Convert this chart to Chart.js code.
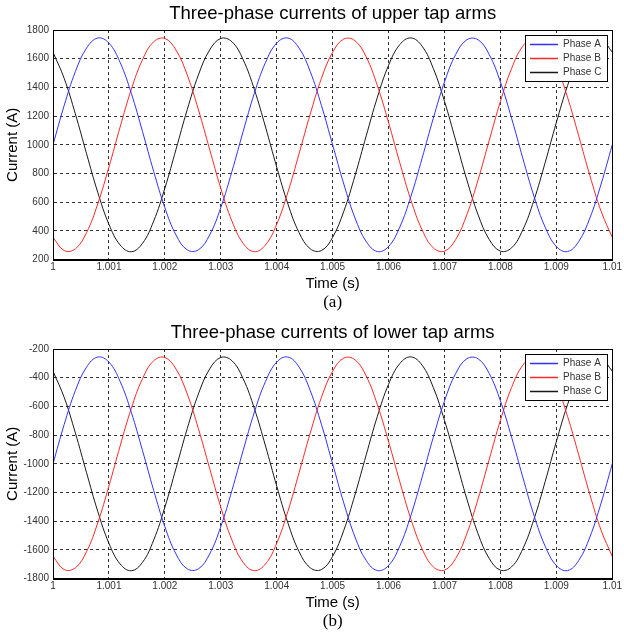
<!DOCTYPE html>
<html>
<head>
<meta charset="utf-8">
<script src="https://cdn.jsdelivr.net/npm/chart.js@4/dist/chart.umd.min.js"></script>
<style>
    body { margin: 0; background: #fff; }
    canvas { position: absolute; left: 0; }
    #upper-chart { top: 0; }
    #lower-chart { top: 319px; }
</style>
</head>
<body>
<canvas id="upper-chart" width="624" height="313"></canvas>
<canvas id="lower-chart" width="624" height="313"></canvas>
<script>
const times = [1, 1.0002, 1.0004, 1.0006, 1.0008, 1.001, 1.0012, 1.0014, 1.0016, 1.0018,
    1.002, 1.0022, 1.0024, 1.0026, 1.0028, 1.003, 1.0032, 1.0034, 1.0036, 1.0038,
    1.004, 1.0042, 1.0044, 1.0046, 1.0048, 1.005, 1.0052, 1.0054, 1.0056, 1.0058,
    1.006, 1.0062, 1.0064, 1.0066, 1.0068, 1.007, 1.0072, 1.0074, 1.0076, 1.0078,
    1.008, 1.0082, 1.0084, 1.0086, 1.0088, 1.009, 1.0092, 1.0094, 1.0096, 1.0098, 1.01];

const phaseNames = ['Phase A', 'Phase B', 'Phase C'];
const phaseColors = ['rgb(50, 50, 255)', 'rgb(255, 40, 40)', 'rgb(25, 25, 25)'];

// upper tap arms (A)
const upperA = [1000, 1274, 1510, 1674, 1744, 1709, 1574, 1359, 1093, 815, 562, 371, 268, 268, 371, 562, 815,
    1093, 1359, 1574, 1709, 1744, 1674, 1510, 1274, 1000, 726, 490, 326, 256, 291, 426, 641, 907, 1185, 1438,
    1629, 1732, 1732, 1629, 1438, 1185, 907, 641, 426, 291, 256, 326, 490, 726, 1000];
const upperB = [355, 263, 275, 388, 588, 845, 1124, 1386, 1593, 1718, 1741, 1660, 1487, 1245, 969, 697, 468,
    313, 255, 302, 446, 669, 938, 1215, 1463, 1645, 1737, 1725, 1612, 1412, 1155, 876, 614, 407, 282, 259,
    340, 513, 755, 1031, 1303, 1532, 1687, 1745, 1698, 1554, 1331, 1062, 785, 537, 355];
const upperC = [1645, 1463, 1215, 938, 669, 446, 302, 255, 313, 468, 697, 969, 1245, 1487, 1660, 1741, 1718,
    1593, 1386, 1124, 845, 588, 388, 275, 263, 355, 537, 785, 1062, 1331, 1554, 1698, 1745, 1687, 1532, 1303,
    1031, 755, 513, 340, 259, 282, 407, 614, 876, 1155, 1412, 1612, 1725, 1737, 1645];

// lower tap arms (A)
const lowerA = [-1000, -726, -490, -326, -256, -291, -426, -641, -907, -1185, -1438, -1629, -1732, -1732, -1629,
    -1438, -1185, -907, -641, -426, -291, -256, -326, -490, -726, -1000, -1274, -1510, -1674, -1744, -1709, -1574,
    -1359, -1093, -815, -562, -371, -268, -268, -371, -562, -815, -1093, -1359, -1574, -1709, -1744, -1674, -1510,
    -1274, -1000];
const lowerB = [-1645, -1737, -1725, -1612, -1412, -1155, -876, -614, -407, -282, -259, -340, -513, -755, -1031,
    -1303, -1532, -1687, -1745, -1698, -1554, -1331, -1062, -785, -537, -355, -263, -275, -388, -588, -845, -1124,
    -1386, -1593, -1718, -1741, -1660, -1487, -1245, -969, -697, -468, -313, -255, -302, -446, -669, -938, -1215,
    -1463, -1645];
const lowerC = [-355, -537, -785, -1062, -1331, -1554, -1698, -1745, -1687, -1532, -1303, -1031, -755, -513, -340,
    -259, -282, -407, -614, -876, -1155, -1412, -1612, -1725, -1737, -1645, -1463, -1215, -938, -669, -446, -302,
    -255, -313, -468, -697, -969, -1245, -1487, -1660, -1741, -1718, -1593, -1386, -1124, -845, -588, -388, -275,
    -263, -355];

const sans = "'Liberation Sans', Arial, sans-serif";
const serif = "'Liberation Serif', 'Times New Roman', serif";

// frame round the plot + matlab-like legend box in the top right corner
const framePlugin = {
    id: 'frameLegend',
    afterDatasetsDraw(chart) {
        const { ctx, chartArea } = chart;
        const { left, top, right, bottom } = chartArea;
        ctx.save();
        ctx.setLineDash([]);
        ctx.lineWidth = 1;
        ctx.strokeStyle = '#000';
        ctx.strokeRect(Math.round(left) + 0.5, Math.round(top) + 0.5,
            Math.round(right - left), Math.round(bottom - top));

        const boxW = 82, boxH = 46;
        const bx = Math.round(right) - 87;
        const by = Math.round(top) + 5;
        ctx.fillStyle = '#fff';
        ctx.fillRect(bx, by, boxW, boxH);
        ctx.strokeRect(bx + 0.5, by + 0.5, boxW, boxH);

        ctx.font = '10px ' + sans;
        ctx.textBaseline = 'middle';
        ctx.textAlign = 'left';
        chart.data.datasets.forEach((ds, i) => {
            const y = by + 9 + i * 14;
            ctx.fillStyle = phaseColors[i];
            ctx.fillRect(bx + 5, y - 0.25, 28, 1.5);
            ctx.fillStyle = '#333';
            ctx.fillText(ds.label, bx + 38, y + 0.5);
        });
        ctx.restore();
    }
};

function makeChart(id, titleText, tagText, series, yMin, yMax) {
    const ctx = document.getElementById(id).getContext('2d');
    return new Chart(ctx, {
        type: 'line',
        data: {
            datasets: series.map((values, i) => ({
                label: phaseNames[i],
                data: values.map((v, k) => ({ x: times[k], y: v })),
                borderColor: phaseColors[i],
                borderWidth: 1,
                pointRadius: 0,
                tension: 0.4,
                fill: false
            }))
        },
        options: {
            responsive: false,
            animation: false,
            layout: { padding: { left: 0, right: 9, top: 0, bottom: 0 } },
            plugins: {
                legend: { display: false },
                tooltip: { enabled: false },
                title: {
                    display: true,
                    fullSize: false,
                    text: titleText,
                    color: '#000',
                    font: { family: sans, size: 18.5, weight: 'normal' },
                    padding: { top: 3, bottom: 4.8 }
                },
                subtitle: {
                    display: true,
                    fullSize: false,
                    position: 'bottom',
                    text: tagText,
                    color: '#000',
                    font: { family: serif, size: 17, weight: 'normal' },
                    padding: 0
                }
            },
            scales: {
                x: {
                    type: 'linear',
                    min: 1,
                    max: 1.01,
                    afterFit(scale) { scale.height = 33; },
                    ticks: {
                        stepSize: 0.001,
                        autoSkip: false,
                        maxRotation: 0,
                        padding: 2,
                        color: '#333',
                        font: { family: sans, size: 10 },
                        callback: value => String(Number(value.toFixed(3)))
                    },
                    grid: { color: 'rgba(0, 0, 0, 0.8)', drawTicks: false },
                    border: { color: '#000', dash: [3, 3] },
                    title: {
                        display: true,
                        text: 'Time (s)',
                        color: '#000',
                        font: { family: sans, size: 15 },
                        padding: { top: 0, bottom: 0 }
                    }
                },
                y: {
                    min: yMin,
                    max: yMax,
                    afterFit(scale) { scale.width = 53; },
                    ticks: {
                        stepSize: 200,
                        padding: 4,
                        color: '#333',
                        font: { family: sans, size: 10 },
                        callback: value => String(value)
                    },
                    grid: { color: 'rgba(0, 0, 0, 0.8)', drawTicks: false },
                    border: { color: '#000', dash: [3, 3] },
                    title: {
                        display: true,
                        text: 'Current (A)',
                        color: '#000',
                        font: { family: sans, size: 15 },
                        padding: { top: 4, bottom: 0 }
                    }
                }
            }
        },
        plugins: [framePlugin]
    });
}

makeChart('upper-chart', 'Three-phase currents of upper tap arms', '(a)', [upperA, upperB, upperC], 200, 1800);
makeChart('lower-chart', 'Three-phase currents of lower tap arms', '(b)', [lowerA, lowerB, lowerC], -1800, -200);
</script>
</body>
</html>
